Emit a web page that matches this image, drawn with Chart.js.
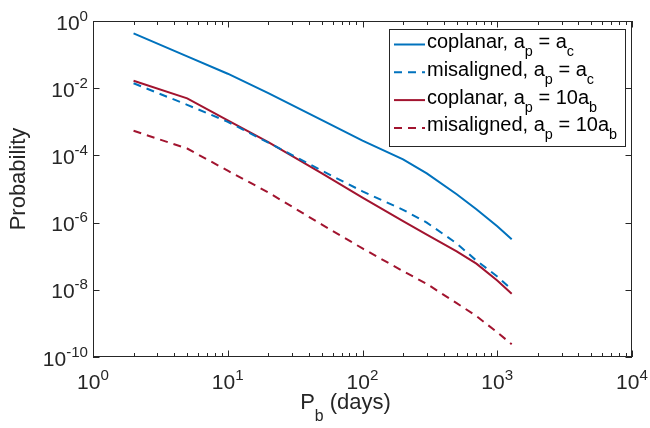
<!DOCTYPE html>
<html>
<head>
<meta charset="utf-8">
<script src="https://cdn.jsdelivr.net/npm/chart.js@4.4.0/dist/chart.umd.min.js"></script>
<style>
  html, body { margin: 0; padding: 0; background: #fff; }
  #wrap { width: 650px; height: 428px; }
</style>
</head>
<body>
<div id="wrap"><canvas id="chart"></canvas></div>
<script>
// binary period in days
const periods = [2, 5, 10, 20, 50, 100, 200, 300, 500, 700, 1000, 1280];

// probability curves
const coplanarAc     = [4.3e-1, 8.9e-2, 2.7e-2, 7.1e-3, 1.12e-3, 2.75e-4, 7.6e-5, 2.9e-5, 7.0e-6, 2.5e-6, 7.8e-7, 3.2e-7];
const misalignedAc   = [1.4e-2, 3.2e-3, 1.0e-3, 2.4e-4, 3.5e-5, 8.5e-6, 2.4e-6, 1.0e-6, 2.4e-7, 7.4e-8, 2.5e-8, 1.02e-8];
const coplanar10ab   = [1.66e-2, 5.0e-3, 1.1e-3, 2.5e-4, 2.9e-5, 5.5e-6, 1.1e-6, 4.4e-7, 1.4e-7, 6.0e-8, 1.9e-8, 7.6e-9];
const misaligned10ab = [5.4e-4, 1.6e-4, 3.5e-5, 7.9e-6, 8.7e-7, 1.7e-7, 3.6e-8, 1.5e-8, 4.0e-9, 1.66e-9, 5.4e-10, 2.4e-10];

const seriesLabels = [
    'coplanar, a_p = a_c',
    'misaligned, a_p = a_c',
    'coplanar, a_p = 10a_b',
    'misaligned, a_p = 10a_b'
];

// tick labels (powers of ten)
const xTickExps = [0, 1, 2, 3, 4];
const yTickExps = [-10, -8, -6, -4, -2, 0];
const xTitle = 'P_b (days)';
const yTitle = 'Probability';

const BLUE = '#0072BD';
const RED = '#A2142F';
const INK = '#262626';
const FONT = '"Liberation Sans", Arial, Helvetica, sans-serif';

function toPoints(ys) {
    return periods.map((p, i) => ({ x: p, y: ys[i] }));
}

// split "a_p = 10a_b" / "10^{-2}" into normal / sub / sup pieces
function parseRich(str) {
    const parts = [];
    let buf = '';
    let i = 0;
    while (i < str.length) {
        const c = str[i];
        if (c === '_' || c === '^') {
            if (buf) { parts.push({ t: buf, k: 0 }); buf = ''; }
            let s;
            if (str[i + 1] === '{') {
                const j = str.indexOf('}', i + 2);
                s = str.slice(i + 2, j);
                i = j + 1;
            } else {
                s = str[i + 1];
                i += 2;
            }
            parts.push({ t: s, k: c === '_' ? -1 : 1 });
        } else {
            buf += c;
            i++;
        }
    }
    if (buf) parts.push({ t: buf, k: 0 });
    return parts;
}

function drawRich(ctx, str, x, y, o) {
    const parts = parseRich(str);
    const small = o.size * o.scale;
    let w = 0;
    parts.forEach(p => {
        ctx.font = (p.k ? small : o.size) + 'px ' + FONT;
        p.w = ctx.measureText(p.t).width;
        w += p.w;
    });
    let cx = x;
    if (o.align === 'center') cx = x - w / 2;
    if (o.align === 'right') cx = x - w;
    ctx.textAlign = 'left';
    ctx.textBaseline = 'alphabetic';
    parts.forEach(p => {
        ctx.font = (p.k ? small : o.size) + 'px ' + FONT;
        let dy = 0;
        if (p.k === 1) dy = -o.rise;
        if (p.k === -1) dy = o.drop;
        ctx.fillText(p.t, cx, y + dy);
        cx += p.w;
    });
}

const matlabAxes = {
    id: 'matlabAxes',
    afterDraw(chart) {
        const ctx = chart.ctx;
        const a = chart.chartArea;
        const xs = chart.scales.x;
        const ys = chart.scales.y;
        ctx.save();

        // box
        ctx.strokeStyle = INK;
        ctx.lineWidth = 1;
        ctx.strokeRect(a.left + 0.5, a.top + 0.5, a.right - a.left - 1, a.bottom - a.top - 1);

        // inward ticks on x (major + minor), top and bottom
        ctx.beginPath();
        xTickExps.forEach((e, i) => {
            const base = Math.pow(10, e);
            const px = Math.round(xs.getPixelForValue(base)) + 0.5;
            ctx.moveTo(px, a.bottom); ctx.lineTo(px, a.bottom - 6.5);
            ctx.moveTo(px, a.top); ctx.lineTo(px, a.top + 6.5);
            if (i < xTickExps.length - 1) {
                for (let m = 2; m <= 9; m++) {
                    const mx = Math.round(xs.getPixelForValue(base * m)) + 0.5;
                    ctx.moveTo(mx, a.bottom); ctx.lineTo(mx, a.bottom - 4);
                    ctx.moveTo(mx, a.top); ctx.lineTo(mx, a.top + 4);
                }
            }
        });
        // inward ticks on y, left and right
        yTickExps.forEach(e => {
            const py = Math.round(ys.getPixelForValue(Math.pow(10, e))) + 0.5;
            ctx.moveTo(a.left, py); ctx.lineTo(a.left + 6.5, py);
            ctx.moveTo(a.right, py); ctx.lineTo(a.right - 6.5, py);
        });
        ctx.stroke();

        // tick labels
        ctx.fillStyle = INK;
        const tickOpt = { size: 21, scale: 0.72, rise: 9, drop: 0 };
        xTickExps.forEach(e => {
            const px = xs.getPixelForValue(Math.pow(10, e));
            drawRich(ctx, '10^{' + e + '}', px, a.bottom + 31.5, Object.assign({ align: 'center' }, tickOpt));
        });
        yTickExps.forEach(e => {
            const py = ys.getPixelForValue(Math.pow(10, e));
            drawRich(ctx, '10^{' + e + '}', a.left - 5, py + 8.5, Object.assign({ align: 'right' }, tickOpt));
        });

        // axis titles
        drawRich(ctx, xTitle, (a.left + a.right) / 2 - 17, a.bottom + 51.5,
            { size: 22, scale: 0.72, rise: 0, drop: 12, align: 'center' });
        ctx.save();
        ctx.translate(25, (a.top + a.bottom) / 2 - 10);
        ctx.rotate(-Math.PI / 2);
        drawRich(ctx, yTitle, 0, 0, { size: 22, scale: 0.72, rise: 0, drop: 0, align: 'center' });
        ctx.restore();

        // legend box (top right, inside axes)
        const bx1 = a.right - 7, by0 = a.top + 8;
        const bx0 = bx1 - 236, by1 = by0 + 117;
        ctx.fillStyle = '#fff';
        ctx.fillRect(bx0, by0, bx1 - bx0, by1 - by0);
        ctx.strokeStyle = INK;
        ctx.lineWidth = 1;
        ctx.setLineDash([]);
        ctx.strokeRect(Math.round(bx0) + 0.5, Math.round(by0) + 0.5, bx1 - bx0, by1 - by0);
        chart.data.datasets.forEach((ds, i) => {
            const ly = by0 + 15.5 + i * 27.8;
            ctx.strokeStyle = ds.borderColor;
            ctx.lineWidth = ds.borderWidth;
            ctx.setLineDash(ds.borderDash || []);
            ctx.beginPath();
            ctx.moveTo(bx0 + 5, ly);
            ctx.lineTo(bx0 + 36, ly);
            ctx.stroke();
            ctx.setLineDash([]);
            ctx.fillStyle = '#000';
            drawRich(ctx, seriesLabels[i], bx0 + 38, ly + 3.5,
                { size: 20, scale: 0.72, rise: 0, drop: 8, align: 'left' });
        });

        ctx.restore();
    }
};

const ctx = document.getElementById('chart').getContext('2d');
new Chart(ctx, {
    type: 'line',
    data: {
        datasets: [
            { label: seriesLabels[0], data: toPoints(coplanarAc), borderColor: BLUE, borderWidth: 2 },
            { label: seriesLabels[1], data: toPoints(misalignedAc), borderColor: BLUE, borderWidth: 2, borderDash: [8, 6] },
            { label: seriesLabels[2], data: toPoints(coplanar10ab), borderColor: RED, borderWidth: 2 },
            { label: seriesLabels[3], data: toPoints(misaligned10ab), borderColor: RED, borderWidth: 2, borderDash: [8, 6] }
        ]
    },
    options: {
        responsive: true,
        maintainAspectRatio: false,
        animation: false,
        devicePixelRatio: 1,
        elements: {
            point: { radius: 0 },
            line: { tension: 0, fill: false }
        },
        layout: { padding: { left: 0, top: 21, right: 18, bottom: 0 } },
        plugins: {
            legend: { display: false },
            tooltip: { enabled: false }
        },
        scales: {
            x: {
                type: 'logarithmic',
                min: 1,
                max: 10000,
                grid: { display: false },
                border: { display: false },
                ticks: { display: false },
                afterFit(s) { s.height = 71; }
            },
            y: {
                type: 'logarithmic',
                min: 1e-10,
                max: 1,
                grid: { display: false },
                border: { display: false },
                ticks: { display: false },
                afterFit(s) { s.width = 93; }
            }
        }
    },
    plugins: [matlabAxes]
});
</script>
</body>
</html>
